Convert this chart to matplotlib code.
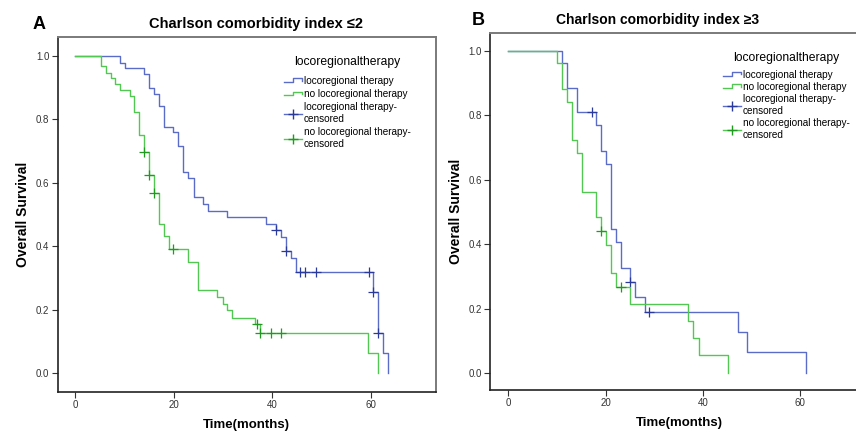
import numpy as np
import matplotlib
matplotlib.use("Agg")
import matplotlib.pyplot as plt
from matplotlib.lines import Line2D

plt.rcParams["font.family"] = ["Liberation Sans", "DejaVu Sans"]

# panel A: Charlson comorbidity index <= 2
a_lrt_t = [0, 9.1, 10.1, 13.9, 15.0, 16.0, 17.0, 18.0, 19.9, 20.9, 21.9, 22.9, 24.0,
           25.9, 26.9, 30.9, 38.7, 40.8, 41.7, 42.7, 43.8, 44.8, 60.5, 61.6, 62.6, 63.5]
a_lrt_s = [1.0, 0.979, 0.961, 0.942, 0.898, 0.880, 0.843, 0.777, 0.759, 0.717, 0.633,
           0.615, 0.554, 0.533, 0.510, 0.491, 0.470, 0.450, 0.429, 0.385, 0.364, 0.319,
           0.254, 0.127, 0.064, 0.0]
a_lrt_cens = [40.8, 42.7, 45.7, 46.6, 48.8, 59.7, 60.5, 61.6]

a_no_t = [0, 5.1, 6.2, 7.2, 8.0, 9.1, 11.1, 12.0, 13.0, 14.0, 15.0, 16.0, 17.0, 18.0,
          19.0, 22.9, 24.9, 28.8, 29.9, 30.9, 31.9, 36.5, 37.5, 59.5, 61.6]
a_no_s = [1.0, 0.969, 0.947, 0.930, 0.913, 0.893, 0.874, 0.824, 0.751, 0.698, 0.625,
          0.567, 0.470, 0.431, 0.392, 0.350, 0.263, 0.240, 0.219, 0.198, 0.175, 0.154,
          0.127, 0.064, 0.0]
a_no_cens = [14.0, 15.0, 16.0, 19.9, 37.0, 37.5, 39.8, 41.7]

# panel B: Charlson comorbidity index >= 3
b_lrt_t = [0, 11.0, 12.0, 14.1, 18.0, 19.1, 20.0, 21.0, 22.1, 23.1, 25.0, 26.0, 28.1,
           47.1, 49.1, 61.1]
b_lrt_s = [1.0, 0.964, 0.886, 0.811, 0.770, 0.689, 0.649, 0.447, 0.406, 0.325, 0.284,
           0.237, 0.190, 0.128, 0.064, 0.0]
b_lrt_cens = [17.1, 25.0, 29.0]

b_no_t = [0, 10.0, 11.0, 12.0, 13.0, 14.1, 15.1, 18.0, 19.1, 20.0, 21.0, 22.1, 25.0,
          37.0, 38.0, 39.1, 45.1]
b_no_s = [1.0, 0.962, 0.882, 0.843, 0.724, 0.682, 0.563, 0.484, 0.442, 0.398, 0.310,
          0.266, 0.213, 0.161, 0.108, 0.056, 0.0]
b_no_cens = [19.1, 23.1]

legend_title = "locoregionaltherapy"
legend_labels = ["locoregional therapy", "no locoregional therapy",
                 "locoregional therapy-\ncensored", "no locoregional therapy-\ncensored"]

BLUE, GREEN = "#5a6cc8", "#52c752"
BLUE_D, GREEN_D = "#2a3a9c", "#1f9a1f"


class StepHandler:
    # little step icon like in SPSS legends
    def legend_artist(self, legend, orig_handle, fontsize, handlebox):
        x0, y0 = -handlebox.xdescent, -handlebox.ydescent
        w, h = handlebox.width, handlebox.height
        xs = [x0, x0 + 0.5 * w, x0 + 0.5 * w, x0 + w, x0 + w]
        ys = [y0 + 0.25 * h, y0 + 0.25 * h, y0 + 0.8 * h, y0 + 0.8 * h, y0 + 0.45 * h]
        ln = Line2D(xs, ys, color=orig_handle.get_color(), lw=1,
                    transform=handlebox.get_transform())
        handlebox.add_artist(ln)
        return ln


def surv_at(times, surv, c):
    i = np.searchsorted(times, c, side="right") - 1
    return surv[i]


def km_panel(ax, curves, xlim, ylim, title, title_x, title_fs, letter, letter_x,
             leg_anchor, leg_fs, leg_sp, leg_sep):
    for t, s, cens, col, dcol in curves:
        t = np.asarray(t)
        s = np.asarray(s)
        ax.step(t, s, where="post", color=col, lw=1)
        cy = [surv_at(t, s, c) for c in cens]
        ax.plot(cens, cy, ls="none", marker="+", ms=7, mew=0.9, color=dcol)

    ax.set_xlim(*xlim)
    ax.set_ylim(*ylim)
    ax.set_xticks([0, 20, 40, 60])
    ax.set_yticks([0.0, 0.2, 0.4, 0.6, 0.8, 1.0])
    ax.set_yticklabels(["%.1f" % v for v in [0.0, 0.2, 0.4, 0.6, 0.8, 1.0]])
    ax.tick_params(direction="out", length=4, width=0.8, labelsize=7, colors="#333333",
                   pad=2)
    for side in ["left", "bottom"]:
        ax.spines[side].set_color("#222222")
        ax.spines[side].set_linewidth(1.2)
    for side in ["right", "top"]:
        ax.spines[side].set_color("#7a7a7a")
        ax.spines[side].set_linewidth(1.4)

    ax.set_xlabel("Time(months)", fontsize=9.5, fontweight="bold", labelpad=6)
    ax.set_ylabel("Overall Survival", fontsize=10, fontweight="bold", labelpad=4)
    ax.text(title_x, 1.018, title, transform=ax.transAxes, fontsize=title_fs,
            fontweight="bold", ha="center", va="bottom")
    ax.text(letter_x, 1.012, letter, transform=ax.transAxes, fontsize=13,
            fontweight="bold", ha="center", va="bottom")

    handles = [Line2D([], [], color=BLUE), Line2D([], [], color=GREEN),
               Line2D([], [], color=BLUE, marker="+", ms=7, mec=BLUE_D, lw=1),
               Line2D([], [], color=GREEN, marker="+", ms=7, mec=GREEN_D, lw=1)]
    leg = ax.legend(handles, legend_labels, title=legend_title, loc="upper left",
                    bbox_to_anchor=leg_anchor, frameon=False, fontsize=leg_fs,
                    title_fontsize=leg_fs + 1.5, handlelength=1.8, handletextpad=0.2,
                    labelspacing=leg_sp, borderaxespad=0,
                    handler_map={handles[0]: StepHandler(), handles[1]: StepHandler()})
    leg._legend_box.sep = leg_sep


fig = plt.figure(figsize=(8.56, 4.33), dpi=100)
ax_a = fig.add_axes([0.0672, 0.0947, 0.4422, 0.819])
ax_b = fig.add_axes([0.5724, 0.0993, 0.4422, 0.8245])

km_panel(ax_a,
         [(a_lrt_t, a_lrt_s, a_lrt_cens, BLUE, BLUE_D),
          (a_no_t, a_no_s, a_no_cens, GREEN, GREEN_D)],
         (-3.64, 73.3), (-0.060, 1.059),
         "Charlson comorbidity index \u22642", 0.524, 10.5, "A", -0.05,
         (0.588, 0.96), 7.2, 0.33, 6)
km_panel(ax_b,
         [(b_lrt_t, b_lrt_s, b_lrt_cens, BLUE, BLUE_D),
          (b_no_t, b_no_s, b_no_cens, GREEN, GREEN_D)],
         (-3.76, 74.0), (-0.053, 1.056),
         "Charlson comorbidity index \u22653", 0.444, 10, "B", -0.032,
         (0.605, 0.958), 7.2, 0.24, 4)

fig.savefig("out.png", dpi=100)
